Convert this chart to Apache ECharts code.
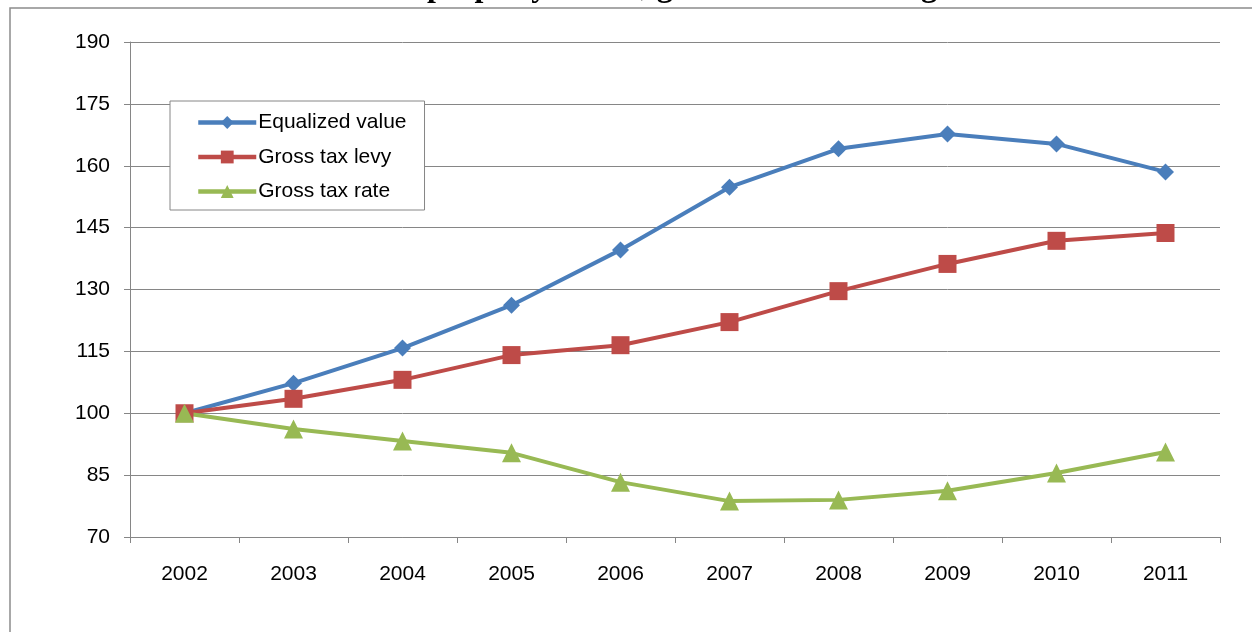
<!DOCTYPE html>
<html>
<head>
<meta charset="utf-8">
<title>Property values, gross tax rates and gross tax levies</title>
<script src="https://cdn.jsdelivr.net/npm/echarts@6/dist/echarts.min.js"></script>
<style>
  html, body { margin: 0; padding: 0; background: #ffffff; }
  #chart { width: 1252px; height: 632px; }
</style>
</head>
<body>
<div id="chart"></div>
<script>
// Index values, 2002 = 100
const years = ['2002', '2003', '2004', '2005', '2006', '2007', '2008', '2009', '2010', '2011'];
const equalizedValue = [100, 107.3, 115.8, 126.2, 139.6, 154.8, 164.1, 167.7, 165.3, 158.5];
const grossTaxLevy   = [100, 103.5, 108.1, 114.1, 116.5, 122.1, 129.6, 136.2, 141.8, 143.7];
const grossTaxRate   = [100, 96.2, 93.3, 90.4, 83.3, 78.7, 79.0, 81.2, 85.5, 90.6];
const yTicks = { min: 70, max: 190, step: 15 };
const titleText = "Chart 4: Southeast Wisconsin's property values, gross tax rates and gross tax levies";

const axisGray = '#868686';
const font = 'Arial, "Liberation Sans", sans-serif';

const chart = echarts.init(document.getElementById('chart'), null, { renderer: 'canvas' });

function lineSeries(name, data, color, symbol, size) {
  return {
    name: name,
    type: 'line',
    data: data,
    symbol: symbol,
    symbolSize: size,
    showAllSymbol: true,
    lineStyle: { color: color, width: 4 },
    itemStyle: { color: color },
    z: 3
  };
}

chart.setOption({
  animation: false,
  backgroundColor: '#ffffff',
  graphic: [
    {
      // page heading sitting above the chart frame
      type: 'text',
      x: -8,
      y: -28,
      style: {
        text: titleText,
        font: 'bold 32px "Liberation Serif", "Times New Roman", serif',
        fill: '#000000',
        verticalAlign: 'top'
      },
      z: 1
    },
    {
      // chart frame
      type: 'polyline',
      shape: { points: [[10, 632], [10, 8], [1252, 8]] },
      style: { stroke: '#8c8c8c', lineWidth: 1.5, fill: null },
      z: 2
    }
  ],
  grid: { left: 130, right: 32, top: 42, bottom: 95, containLabel: false },
  legend: {
    orient: 'vertical',
    left: 170,
    top: 101,
    padding: [11, 18, 8, 26],
    itemWidth: 58,
    itemHeight: 16,
    itemGap: 13.5,
    backgroundColor: '#ffffff',
    borderColor: axisGray,
    borderWidth: 1,
    lineStyle: { width: 4.5 },
    textStyle: { fontFamily: font, fontSize: 21, color: '#000000', padding: [0, 0, 0, -3] },
    data: ['Equalized value', 'Gross tax levy', 'Gross tax rate']
  },
  xAxis: {
    type: 'category',
    data: years,
    boundaryGap: true,
    axisLine: { lineStyle: { color: axisGray, width: 1 } },
    axisTick: { show: true, length: 6, interval: 0, lineStyle: { color: axisGray } },
    axisLabel: { fontFamily: font, fontSize: 21, color: '#000000', margin: 27 },
    splitLine: { show: false }
  },
  yAxis: {
    type: 'value',
    min: yTicks.min,
    max: yTicks.max,
    interval: yTicks.step,
    axisLine: { show: true, lineStyle: { color: axisGray, width: 1 } },
    axisTick: { show: true, length: 6, lineStyle: { color: axisGray } },
    axisLabel: { fontFamily: font, fontSize: 21, color: '#000000', margin: 20 },
    splitLine: { show: true, lineStyle: { color: axisGray, width: 1 } }
  },
  series: [
    lineSeries('Equalized value', equalizedValue, '#4a7ebb', 'diamond', 17),
    lineSeries('Gross tax levy', grossTaxLevy, '#be4b48', 'rect', 18),
    lineSeries('Gross tax rate', grossTaxRate, '#98b954', 'triangle', 19)
  ]
});
</script>
</body>
</html>
